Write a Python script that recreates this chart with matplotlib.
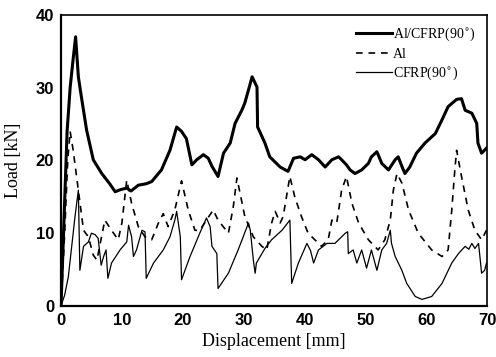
import matplotlib.pyplot as plt

# Al/CFRP(90°) hybrid
hyb_x = [0, 0.5, 1.0, 1.5, 2.0, 2.4, 2.85, 3.3, 4.2, 5.3, 6.7, 8.0, 8.9, 9.8, 10.8, 11.5, 12.7,
         14.0, 14.9, 16.5, 17.9, 19.0, 19.8, 20.6, 21.5, 22.3, 23.4, 24.2, 24.8, 25.8, 26.7,
         27.8, 28.6, 29.7, 30.2, 31.4, 32.2, 32.3, 33.5, 34.3, 36.0, 37.3, 38.2, 39.3, 40.1,
         41.2, 42.3, 43.4, 44.5, 45.6, 46.1, 46.9, 47.5, 48.3, 49.4, 50.5, 51.0, 51.9, 52.7,
         53.8, 54.9, 55.4, 56.0, 56.5, 57.3, 58.4, 59.8, 61.5, 62.6, 63.6, 65.0, 65.8, 66.4,
         67.5, 68.3, 68.5, 69.1, 69.9]
hyb_y = [0, 12, 24, 30, 34, 37.0, 31.5, 29, 24.2, 20.1, 18.2, 16.8, 15.7, 16.0, 16.2, 15.8, 16.6,
         16.8, 17.1, 18.7, 21.4, 24.6, 24.0, 23.0, 19.4, 20.1, 20.8, 20.3, 19.2, 17.8, 21.0,
         22.4, 25.1, 26.9, 27.9, 31.5, 30.1, 24.6, 22.4, 20.5, 19.1, 18.5, 20.3, 20.5, 20.1,
         20.8, 20.1, 19.1, 20.1, 20.5, 20.1, 19.4, 18.7, 18.2, 18.7, 19.6, 20.5, 21.2, 19.6,
         18.7, 20.1, 20.5, 19.2, 18.2, 19.1, 21.0, 22.4, 23.7, 25.6, 27.4, 28.4, 28.5, 26.9,
         26.5, 25.1, 22.4, 21.0, 21.7]

# Al
al_x = [0, 0.6, 1.1, 1.5, 2.0, 2.85, 3.7, 4.5, 5.3, 5.9, 7.2, 8.3, 9.4, 10.0, 10.8, 11.6, 12.7,
        13.8, 14.9, 16.0, 16.8, 17.6, 18.7, 19.8, 20.9, 22.0, 22.8, 25.0, 25.8, 27.5, 28.3,
        28.9, 30.2, 31.6, 33.0, 33.8, 34.6, 35.2, 36.0, 36.5, 37.6, 38.4, 39.5, 40.6, 41.7,
        42.8, 43.9, 44.5, 45.3, 46.1, 46.9, 47.8, 48.9, 50.5, 52.1, 53.2, 54.1, 54.6, 55.2,
        56.0, 57.1, 58.7, 60.9, 62.6, 63.6, 64.2, 64.7, 65.0, 65.8, 66.9, 68.0, 69.1, 69.9]
al_y = [0, 10, 20, 24.0, 21.4, 15.9, 10.4, 9.5, 7.0, 6.3, 11.8, 10.4, 9.1, 11.4, 17.3, 14.1, 10.9,
        9.5, 9.1, 11.4, 12.7, 10.9, 13.2, 17.2, 13.2, 10.4, 10.4, 13.2, 11.8, 10.0, 13.6,
        17.6, 12.3, 9.5, 8.2, 7.7, 11.4, 13.0, 11.4, 12.3, 17.8, 15.0, 12.3, 10.0, 9.1,
        8.2, 9.1, 11.8, 11.4, 15.9, 17.8, 14.1, 11.4, 9.1, 7.7, 9.1, 11.8, 15.9, 18.2,
        16.9, 13.2, 10.0, 7.7, 6.8, 7.7, 13.2, 18.7, 21.4, 17.8, 13.2, 10.4, 9.1, 10.4]

# CFRP(90°)
cf_x = [0, 0.6, 1.2, 1.8, 2.3, 2.85, 3.1, 3.7, 4.5, 5.0, 5.6, 6.1, 6.6, 7.0, 7.4, 7.7, 8.3, 9.7,
        10.8, 11.1, 11.6, 11.9, 12.4, 13.3, 13.8, 14.0, 15.2, 16.8, 17.9, 18.7, 19.0, 19.6,
        19.8, 21.2, 22.8, 23.9, 24.5, 24.8, 25.6, 25.8, 27.5, 29.1, 30.8, 31.1, 31.6, 31.9,
        32.1, 33.5, 34.6, 36.3, 37.6, 37.9, 39.0, 40.4, 41.0, 41.5, 42.3, 43.7, 45.0, 46.1,
        46.7, 47.1, 47.2, 48.0, 48.6, 49.4, 50.2, 51.0, 51.9, 52.7, 53.5, 54.1, 54.3, 54.9,
        56.0, 56.8, 58.2, 59.3, 60.9, 62.6, 64.2, 65.3, 66.4, 67.0, 67.5, 68.0, 68.6, 69.1,
        69.6, 69.9]
cf_y = [0, 1.5, 4.0, 8.5, 12.3, 15.9, 4.9, 8.2, 8.8, 10.0, 9.8, 9.3, 5.6, 6.8, 7.7, 3.8, 5.9, 7.7,
        8.8, 11.1, 9.5, 6.8, 7.7, 10.4, 10.2, 3.8, 5.9, 7.7, 9.5, 11.8, 13.0, 9.5,
        3.6, 6.8, 10.0, 12.1, 10.9, 8.2, 7.2, 2.4, 4.5, 7.7, 11.4, 10.4, 6.3, 4.5,
        5.9, 7.9, 9.1, 10.4, 11.8, 3.1, 5.9, 8.6, 7.6, 5.9, 7.7, 8.6, 8.6, 9.5,
        10.0, 10.2, 7.2, 7.7, 5.9, 7.7, 5.2, 7.7, 4.9, 7.7, 8.6, 10.4, 8.6, 6.8,
        4.9, 3.1, 1.3, 0.9, 1.3, 3.1, 5.9, 7.2, 8.2, 7.8, 8.6, 7.9, 8.6, 4.5,
        4.9, 5.9]

fig = plt.figure(figsize=(4.96, 3.57), dpi=100)
ax = fig.add_axes([0.123, 0.143, 0.859, 0.815])

ax.plot(hyb_x, hyb_y, color='black', lw=2.2, label='Al/CFRP(90$^{\\circ}$)')
ax.plot(al_x, al_y, color='black', lw=1.2, ls=(0, (4, 3.5)), label='Al')
ax.plot(cf_x, cf_y, color='black', lw=0.9, label='CFRP(90$^{\\circ}$)')

ax.set_xlim(0, 70)
ax.set_ylim(0, 40)
ax.set_xticks([0, 10, 20, 30, 40, 50, 60, 70])
ax.set_yticks([0, 10, 20, 30, 40])
ax.tick_params(length=0, pad=5, labelsize=12)
for lab in ax.get_xticklabels() + ax.get_yticklabels():
    lab.set_family('Liberation Sans')
    lab.set_fontweight('bold')

for side in ['left', 'bottom']:
    ax.spines[side].set_linewidth(1.6)
for side in ['top', 'right']:
    ax.spines[side].set_linewidth(1.2)

ax.set_xlabel('Displacement [mm]', family='Liberation Serif', fontsize=13, labelpad=4)
ax.set_ylabel('Load [kN]', family='Liberation Serif', fontsize=13, labelpad=10)

ax.legend(loc='upper right', frameon=False, prop={'family': 'Liberation Serif', 'size': 10},
          handlelength=2.6, handletextpad=0.1, labelspacing=0.3,
          bbox_to_anchor=(1.0, 1.0), borderaxespad=0.4)

fig.savefig('out.png', dpi=100)
